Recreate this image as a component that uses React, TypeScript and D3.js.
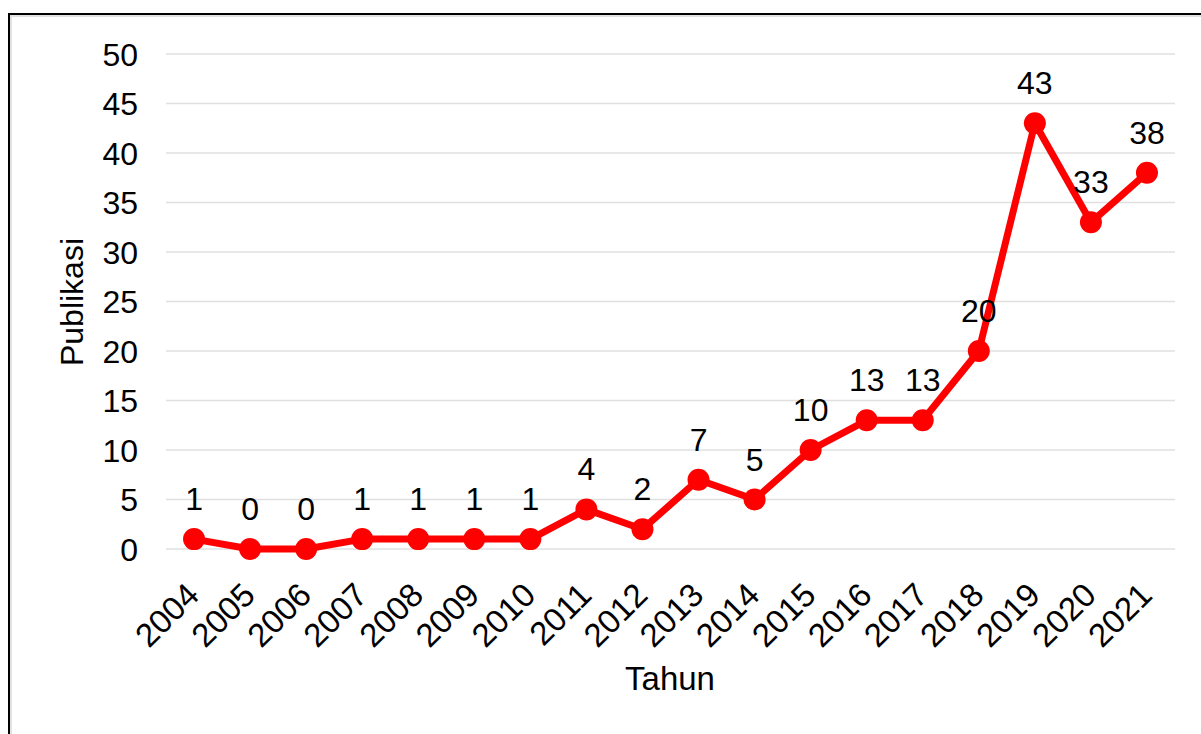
import React, { useRef, useEffect } from 'react';
import * as d3 from 'd3';

const years = ['2004', '2005', '2006', '2007', '2008', '2009', '2010', '2011', '2012', '2013', '2014', '2015', '2016', '2017', '2018', '2019', '2020', '2021'];
const publikasi = [1, 0, 0, 1, 1, 1, 1, 4, 2, 7, 5, 10, 13, 13, 20, 43, 33, 38];
const yTicks = [0, 5, 10, 15, 20, 25, 30, 35, 40, 45, 50];

const App = () => {
  const ref = useRef<SVGSVGElement>(null);

  useEffect(() => {
    const svg = d3.select(ref.current);
    svg.selectAll('*').remove();

    const width = 1201;
    const height = 734;
    const margin = { top: 54, right: 26, bottom: 185, left: 166 };
    const font = 'Liberation Sans, Arial, sans-serif';
    const fs = 32;

    const x = d3.scaleBand().domain(years).range([margin.left, width - margin.right]).padding(0);
    const y = d3.scaleLinear().domain([0, 50]).range([height - margin.bottom, margin.top]);
    const cx = (d: string) => (x(d) as number) + x.bandwidth() / 2;

    // frame
    svg.append('rect').attr('x', 11).attr('y', 16).attr('width', 1300).attr('height', 900)
      .attr('fill', 'none').attr('stroke', '#e2e2e2').attr('stroke-width', 2);
    svg.append('rect').attr('x', 9).attr('y', 14).attr('width', 1300).attr('height', 900)
      .attr('fill', 'none').attr('stroke', '#000').attr('stroke-width', 2);

    // grid
    svg.append('g').selectAll('line').data(yTicks).join('line')
      .attr('x1', margin.left).attr('x2', width - margin.right)
      .attr('y1', d => y(d)).attr('y2', d => y(d))
      .attr('stroke', '#e0e0e0').attr('stroke-width', 1.5);

    // y labels
    svg.append('g').selectAll('text').data(yTicks).join('text')
      .attr('x', 138).attr('y', d => y(d)).attr('dy', '0.36em')
      .attr('text-anchor', 'end').attr('font-family', font).attr('font-size', fs)
      .attr('fill', '#000').text(d => d);

    // x labels
    svg.append('g').selectAll('text').data(years).join('text')
      .attr('transform', d => `translate(${cx(d) + 7},597) rotate(-45)`)
      .attr('text-anchor', 'end').attr('font-family', font).attr('font-size', 33)
      .attr('fill', '#000').text(d => d);

    // axis titles
    svg.append('text').attr('transform', 'translate(83,302) rotate(-90)')
      .attr('text-anchor', 'middle').attr('font-family', font).attr('font-size', fs)
      .attr('fill', '#000').text('Publikasi');
    svg.append('text').attr('x', 670).attr('y', 690)
      .attr('text-anchor', 'middle').attr('font-family', font).attr('font-size', 33)
      .attr('fill', '#000').text('Tahun');

    // line
    const line = d3.line<number>().x((d, i) => cx(years[i])).y(d => y(d));
    svg.append('path').datum(publikasi).attr('d', line)
      .attr('fill', 'none').attr('stroke', '#ff0000').attr('stroke-width', 7)
      .attr('stroke-linejoin', 'round');

    svg.append('g').selectAll('circle').data(publikasi).join('circle')
      .attr('cx', (d, i) => cx(years[i])).attr('cy', d => y(d)).attr('r', 11)
      .attr('fill', '#ff0000');

    // data labels
    svg.append('g').selectAll('text').data(publikasi).join('text')
      .attr('x', (d, i) => cx(years[i])).attr('y', d => y(d) - 29)
      .attr('text-anchor', 'middle').attr('font-family', font).attr('font-size', fs)
      .attr('fill', '#000').text(d => d);
  }, []);

  return <svg ref={ref} width={1201} height={734} style={{ position: 'absolute', left: 0, top: 0, background: '#fff' }} />;
};

export default App;
